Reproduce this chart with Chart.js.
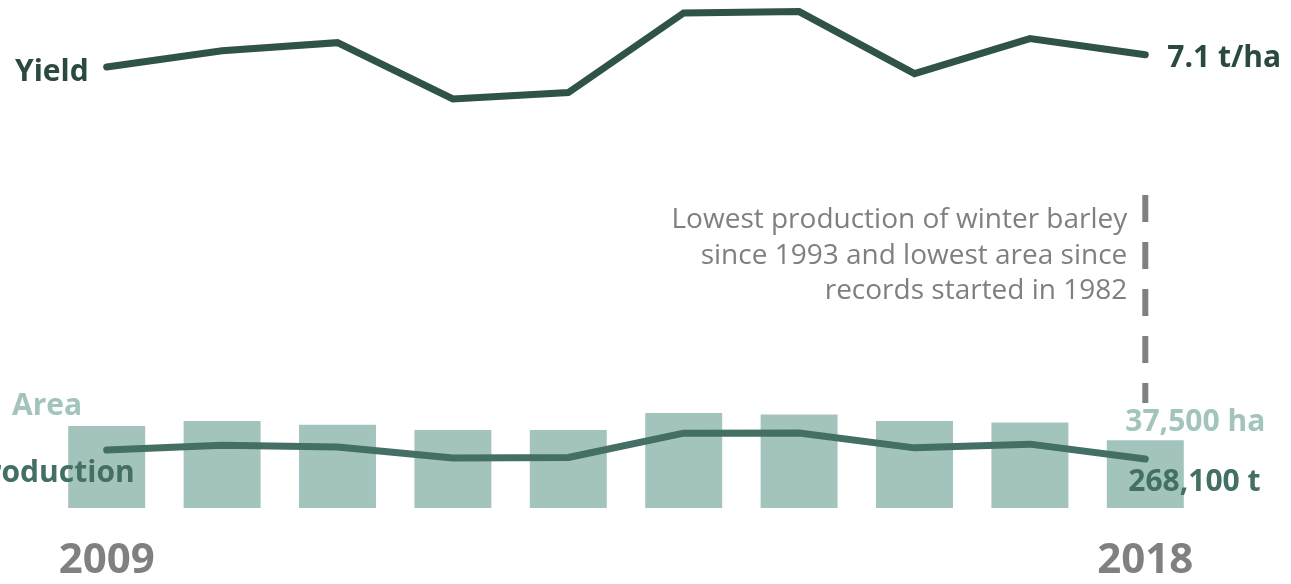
<!DOCTYPE html>
<html>
<head>
<meta charset="utf-8">
<script src="https://cdn.jsdelivr.net/npm/chart.js@4"></script>
<style>
  html, body { margin: 0; padding: 0; background: #fff; }
  #wrap { width: 1291px; height: 584px; }
</style>
</head>
<body>
<div id="wrap"><canvas id="barley-chart" width="1291" height="584"></canvas></div>
<script>
// winter barley, 2009-2018
const years = ['2009', '2010', '2011', '2012', '2013', '2014', '2015', '2016', '2017', '2018']
const yieldTHa = [6.83, 7.19, 7.37, 6.12, 6.26, 8.03, 8.06, 6.68, 7.46, 7.1]
const areaHa = [45400, 48200, 46100, 43200, 43200, 52600, 51800, 48200, 47400, 37500]
const productionT = [321000, 350000, 339000, 274000, 277000, 421000, 422000, 334000, 356000, 268100]
const noteLines = [
  'Lowest production of winter barley',
  'since 1993 and lowest area since',
  'records started in 1982'
]

const yieldColor = '#2f5249'
const prodColor = '#446f64'
const areaColor = '#a3c4bc'
const greyText = '#808080'

Chart.defaults.font.family = "'Open Sans', 'Noto Sans', sans-serif"

const fmt = n => n.toLocaleString('en-GB')

const sideLabels = {
  id: 'sideLabels',
  afterDatasetsDraw(chart) {
    const ctx = chart.ctx
    const yPts = chart.getDatasetMeta(0).data
    const pPts = chart.getDatasetMeta(1).data
    const aBars = chart.getDatasetMeta(2).data
    const last = years.length - 1
    const x = chart.scales.x
    const yArea = chart.scales.yArea

    ctx.save()
    ctx.font = "bold 30px 'Open Sans', sans-serif"
    ctx.textBaseline = 'alphabetic'

    // yield
    ctx.fillStyle = '#2a4a40'
    ctx.textAlign = 'right'
    ctx.fillText('Yield', yPts[0].x - 18, yPts[0].y + 14)
    ctx.textAlign = 'left'
    ctx.fillText(yieldTHa[last].toFixed(1) + ' t/ha', yPts[last].x + 22, yPts[last].y + 12)

    // area
    ctx.fillStyle = areaColor
    ctx.textAlign = 'left'
    ctx.fillText('Area', 12, aBars[0].y - 11)
    ctx.fillText(fmt(areaHa[last]) + ' ha', x.getPixelForValue(last) - 20, aBars[last].y - 9)

    // production
    ctx.fillStyle = prodColor
    ctx.textAlign = 'right'
    ctx.fillText('Production', pPts[0].x + 28, pPts[0].y + 32)
    ctx.textAlign = 'left'
    ctx.fillText(fmt(productionT[last]) + ' t', pPts[last].x - 17, pPts[last].y + 32)

    // note + dashed marker on 2018
    const mx = x.getPixelForValue(last)
    ctx.strokeStyle = greyText
    ctx.lineWidth = 6
    ctx.setLineDash([27, 20])
    ctx.beginPath()
    ctx.moveTo(mx, yArea.getPixelForValue(173400))
    ctx.lineTo(mx, yArea.getPixelForValue(58200))
    ctx.stroke()
    ctx.setLineDash([])

    ctx.font = "28px 'Open Sans', sans-serif"
    ctx.fillStyle = '#7f7f7f'
    ctx.textAlign = 'right'
    ctx.textBaseline = 'middle'
    noteLines.forEach((line, i) => {
      ctx.fillText(line, mx - 18, yArea.getPixelForValue(159500) + i * 35.5)
    })
    ctx.restore()
  }
}

const chart = new Chart(document.getElementById('barley-chart'), {
  type: 'bar',
  data: {
    labels: years,
    datasets: [{
      type: 'line',
      label: 'Yield',
      data: yieldTHa,
      yAxisID: 'yYield',
      borderColor: yieldColor,
      borderWidth: 7,
      borderCapStyle: 'round',
      borderJoinStyle: 'miter',
      pointRadius: 0,
      tension: 0,
      clip: false,
      order: 0
    }, {
      type: 'line',
      label: 'Production',
      data: productionT,
      yAxisID: 'yProd',
      borderColor: prodColor,
      borderWidth: 7,
      borderCapStyle: 'round',
      borderJoinStyle: 'round',
      pointRadius: 0,
      tension: 0,
      clip: false,
      order: 0
    }, {
      label: 'Area',
      data: areaHa,
      yAxisID: 'yArea',
      backgroundColor: areaColor,
      barPercentage: 0.667,
      categoryPercentage: 1,
      order: 1
    }]
  },
  options: {
    responsive: false,
    animation: false,
    layout: {
      padding: { top: 8, left: 49, right: 88, bottom: 0 }
    },
    plugins: {
      legend: { display: false },
      tooltip: { enabled: false }
    },
    scales: {
      x: {
        grid: { display: false, drawTicks: false },
        border: { display: false },
        afterFit: scale => { scale.height = 76 },
        ticks: {
          autoSkip: false,
          maxRotation: 0,
          padding: 28,
          color: greyText,
          font: { size: 42, weight: 'bold' },
          callback: function(val, i, ticks) {
            return (i === 0 || i === ticks.length - 1) ? this.getLabelForValue(val) : ''
          }
        }
      },
      yYield: { display: false, min: -2.97, max: 8.14 },
      yArea: { display: false, min: 0, max: 276950 },
      yProd: { display: false, min: -22000, max: 2938000 }
    }
  },
  plugins: [sideLabels]
})
</script>
</body>
</html>
